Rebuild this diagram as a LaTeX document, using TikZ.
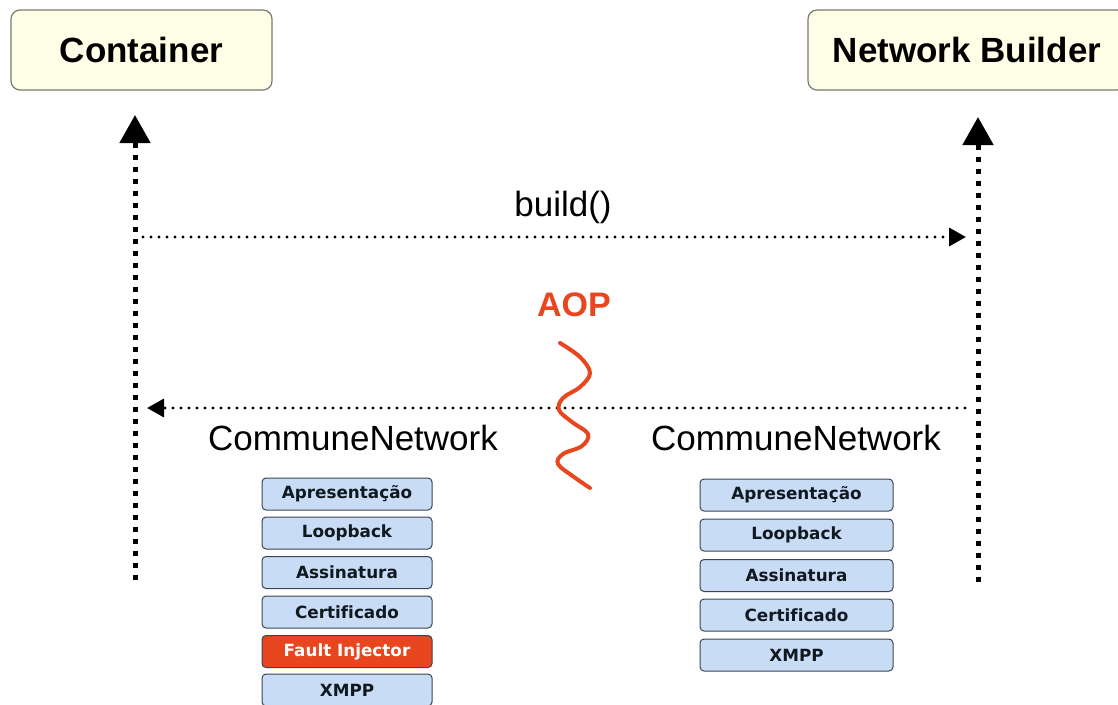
\documentclass[tikz,border=0pt]{standalone}
\usepackage{fontspec}
\setmainfont{Liberation Sans}
\newfontfamily\dv[Ligatures=NoCommon]{DejaVu Sans}
\usetikzlibrary{arrows.meta}
\definecolor{cream}{HTML}{FFFFE8}
\definecolor{creamborder}{HTML}{7A7A6E}
\definecolor{layerblue}{HTML}{C9DCF5}
\definecolor{layerborder}{HTML}{3C4450}
\definecolor{aopred}{HTML}{E8461E}
\definecolor{layertext}{HTML}{101820}
\tikzset{
  actor/.style={draw=creamborder, line width=1.2pt, fill=cream, rounded corners=9pt,
    minimum height=80pt, font=\fontsize{35}{40}\selectfont\bfseries, inner sep=0pt},
  layer/.style={draw=layerborder, line width=1pt, fill=layerblue, rounded corners=4pt,
    minimum height=32pt, text=layertext, font=\dv\fontsize{16.8}{19}\selectfont\bfseries, inner sep=0pt},
  faultlayer/.style={layer, fill=aopred, text=white},
  lifeline/.style={line width=5pt, dash pattern=on 5pt off 7pt,
    -{Triangle[width=30pt,length=28pt]}},
  msg/.style={line width=3.4pt, line cap=round, dash pattern=on 0pt off 8pt,
    -{Triangle[width=18pt,length=17pt]}},
  label/.style={font=\fontsize{35}{40}\selectfont, inner sep=0pt}
}
\begin{document}
\begin{tikzpicture}[x=1pt,y=-1pt]
\clip (0,0) rectangle (1118,704);
\fill[white] (0,0) rectangle (1118,704);

\node[actor, minimum width=261pt] (cont) at (141.5,50) {Container};
\node[actor, minimum width=318pt] (nb) at (967,50) {Network Builder};

\coordinate (cbot) at (135,580);
\coordinate (ctop) at (135,115);
\coordinate (nbot) at (978,582);
\coordinate (ntop) at (978,117);
\draw[lifeline] (cbot) -- (ctop);
\draw[lifeline] (nbot) -- (ntop);

\coordinate (bs) at (143,237);
\coordinate (be) at (966,237);
\draw[msg] (bs) -- (be);
\node[label] (build) at (563,207) {build()};

\coordinate (rs) at (965,408);
\coordinate (re) at (147,408);
\draw[msg] (rs) -- (re);

\node[label, text=aopred, font=\fontsize{34}{40}\selectfont\bfseries] (aop) at (574,305) {AOP};
\draw[aopred, line width=4pt, line cap=round] plot[smooth, tension=0.6] coordinates {
  (560,343) (580,357) (590,373) (580,387) (563,398) (559,410) (572,422) (588,434)
  (582,446) (563,454) (558,464) (574,477) (590,488)};

\node[label] (cnl) at (353,438) {CommuneNetwork};
\node[label] (cnr) at (796,438) {CommuneNetwork};

\begin{scope}[every node/.append style={minimum width=170pt}]
\node[layer] (l1) at (347,494) {Apresentação};
\node[layer] (l2) at (347,533) {Loopback};
\node[layer] (l3) at (347,572.5) {Assinatura};
\node[layer] (l4) at (347,612) {Certificado};
\node[faultlayer] (l5) at (347,651.5) {Fault Injector};
\node[layer] (l6) at (347,690) {XMPP};
\end{scope}

\begin{scope}[every node/.append style={minimum width=193pt}]
\node[layer] (r1) at (796.5,495) {Apresentação};
\node[layer] (r2) at (796.5,535) {Loopback};
\node[layer] (r3) at (796.5,575.5) {Assinatura};
\node[layer] (r4) at (796.5,615) {Certificado};
\node[layer] (r5) at (796.5,655) {XMPP};
\end{scope}
\end{tikzpicture}
\end{document}
